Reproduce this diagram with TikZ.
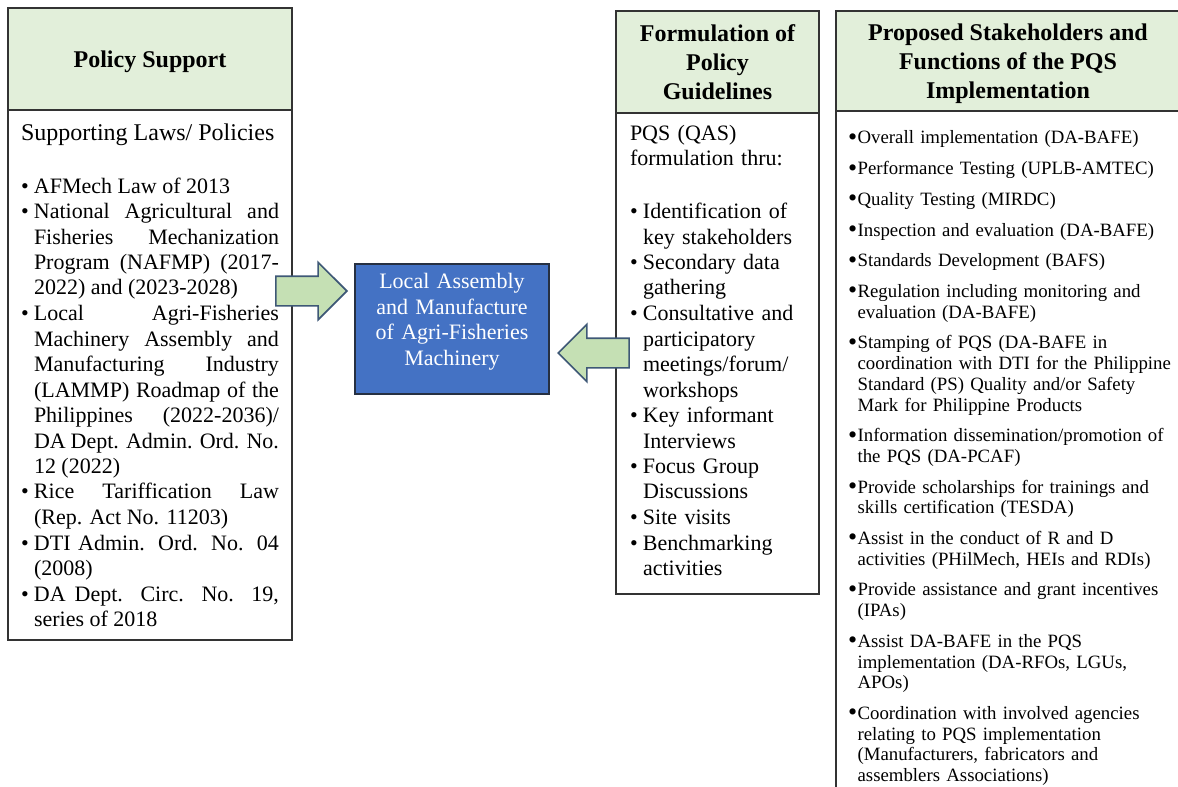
\documentclass[tikz,border=0pt]{standalone}
\usepackage{fontspec}
\setmainfont{Liberation Serif}
\usetikzlibrary{shapes.arrows, positioning}

\definecolor{headgreen}{RGB}{226, 239, 218}
\definecolor{arrowgreen}{RGB}{197, 224, 180}
\definecolor{arrowedge}{RGB}{62, 88, 118}
\definecolor{coreblue}{RGB}{68, 114, 196}
\definecolor{coreedge}{RGB}{38, 48, 66}

\newcommand{\lawitem}[1]{\par\hangindent=6.5pt\hangafter=1\noindent\makebox[6.5pt][l]{\textbullet}#1}
\newcommand{\roleitem}[1]{\par\hangindent=4.8pt\hangafter=1\noindent\makebox[4.8pt][l]{\raisebox{-0.7pt}{\fontsize{13}{10}\selectfont\textbullet}}#1\par\vspace{5pt}}
\newcommand{\nodepth}[1]{\raisebox{0pt}[\height][0pt]{#1}}

\begin{document}
\begin{tikzpicture}[
  x=0.5pt, y=-0.5pt,
  headbox/.style={draw=black!80, line width=0.8pt, fill=headgreen, align=center, inner sep=0pt, outer sep=0pt, font=\fontsize{12}{14.5}\selectfont\bfseries},
  bodybox/.style={draw=black!80, line width=0.8pt, inner ysep=0pt, outer sep=0pt},
  corebox/.style={draw=coreedge, line width=0.8pt, fill=coreblue, text=white, align=center, text width=97pt, inner sep=0pt, font=\fontsize{11}{12.75}\selectfont},
  arrowshape/.style={single arrow, draw=arrowedge, fill=arrowgreen, line width=0.8pt, minimum height=35.5pt, minimum width=28pt, text height=7pt, text depth=7pt, single arrow head extend=7pt, inner sep=0pt}
]
  \useasboundingbox (0,0) rectangle (1178,787);
  \clip (0,0) rectangle (1178,787);

  % Policy support
  \node[headbox, anchor=north west, minimum width=142pt, minimum height=51pt] (lawshead) at (8,8) {\nodepth{Policy Support}};
  \node[bodybox, below=0pt of lawshead, inner xsep=6.5pt, text width=129pt, text height=15pt, text depth=250pt, align=justify, font=\fontsize{11}{12.75}\selectfont] (lawsbody) {%
    \tolerance=10000\hyphenpenalty=10000\exhyphenpenalty=10000
    {\fontsize{12}{12.75}\selectfont Supporting Laws/ Policies\par}
    \vspace{13.75pt}
    \lawitem{AFMech Law of 2013}
    \lawitem{National Agricultural and\linebreak Fisheries Mechanization\linebreak Program (NAFMP) (2017-\linebreak 2022) and (2023-2028)}
    \lawitem{Local Agri-Fisheries\linebreak Machinery Assembly and\linebreak Manufacturing Industry\linebreak (LAMMP) Roadmap of the\linebreak Philippines (2022-2036)/\linebreak DA Dept. Admin. Ord. No.\linebreak 12 (2022)}
    \lawitem{Rice Tariffication Law\linebreak (Rep. Act No. 11203)}
    \lawitem{DTI Admin. Ord. No. 04\linebreak (2008)}
    \lawitem{DA Dept. Circ. No. 19,\linebreak series of 2018}\par
  };

  % Formulation of policy guidelines
  \node[headbox, anchor=north west, minimum width=101.5pt, minimum height=51pt] (guidehead) at (616,11) {Formulation of\\Policy\\Guidelines};
  \node[bodybox, below=0pt of guidehead, inner xsep=7pt, text width=87.5pt, text height=13.5pt, text depth=227pt, align=left, font=\fontsize{11}{12.75}\selectfont] (guidebody) {%
    PQS (QAS)\newline formulation thru:\par
    \vspace{13.75pt}
    \lawitem{Identification of\newline key stakeholders}
    \lawitem{Secondary data\newline gathering}
    \lawitem{Consultative and\newline participatory\newline meetings/forum/\newline workshops}
    \lawitem{Key informant\newline Interviews}
    \lawitem{Focus Group\newline Discussions}
    \lawitem{Site visits}
    \lawitem{Benchmarking\newline activities}\par
  };

  % Stakeholders and functions
  \node[headbox, anchor=north west, minimum width=172pt, minimum height=50pt] (rolehead) at (836,11) {Proposed Stakeholders and\\Functions of the PQS\\\nodepth{Implementation}};
  \node[bodybox, anchor=north west, inner xsep=6pt, text width=166pt, text height=6.15pt, text depth=338pt, align=left, font=\fontsize{9.4}{10.35}\selectfont] (rolebody) at (rolehead.south west) {%
    \hyphenpenalty=10000
    \roleitem{Overall implementation (DA-BAFE)}
    \roleitem{Performance Testing (UPLB-AMTEC)}
    \roleitem{Quality Testing (MIRDC)}
    \roleitem{Inspection and evaluation (DA-BAFE)}
    \roleitem{Standards Development (BAFS)}
    \roleitem{Regulation including monitoring and\newline evaluation (DA-BAFE)}
    \roleitem{Stamping of PQS (DA-BAFE in\newline coordination with DTI for the Philippine\newline Standard (PS) Quality and/or Safety\newline Mark for Philippine Products}
    \roleitem{Information dissemination/promotion of\newline the PQS (DA-PCAF)}
    \roleitem{Provide scholarships for trainings and\newline skills certification (TESDA)}
    \roleitem{Assist in the conduct of R and D\newline activities (PHilMech, HEIs and RDIs)}
    \roleitem{Provide assistance and grant incentives\newline (IPAs)}
    \roleitem{Assist DA-BAFE in the PQS\newline implementation (DA-RFOs, LGUs,\newline APOs)}
    \roleitem{Coordination with involved agencies\newline relating to PQS implementation\newline (Manufacturers, fabricators and\newline assemblers Associations)}
  };

  % Central node
  \node[corebox, anchor=north, minimum width=97pt, text height=12.5pt, text depth=52.5pt] (core) at (452,263) {Local Assembly\\and Manufacture\\of Agri-Fisheries\\Machinery};

  % Block arrows
  \node[arrowshape, anchor=tip] (lawsarrow) at (348,291) {};
  \node[arrowshape, anchor=tip, shape border rotate=180] (guidearrow) at (557,353) {};
\end{tikzpicture}
\end{document}
